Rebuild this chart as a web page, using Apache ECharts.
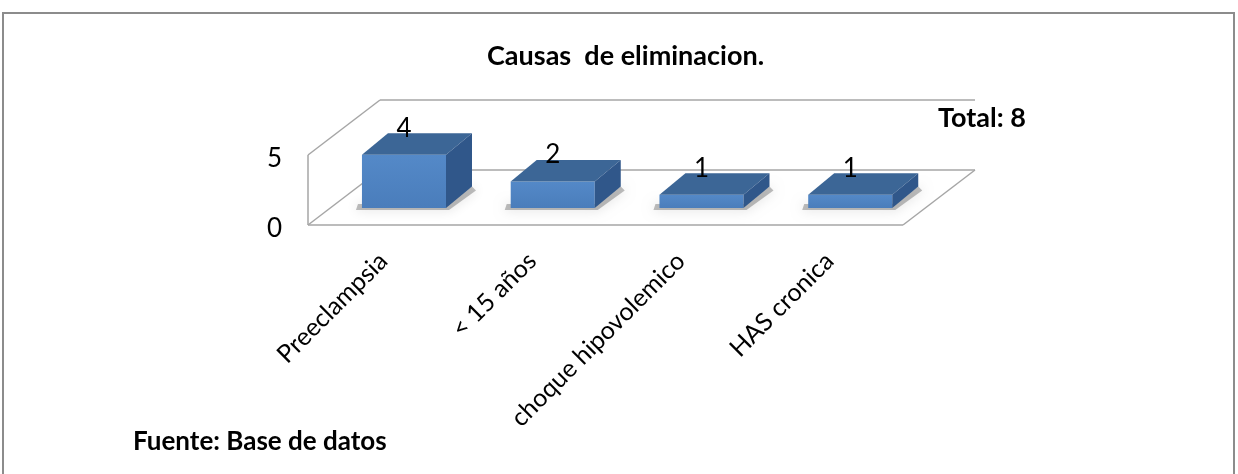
<!DOCTYPE html>
<html>
<head>
<meta charset="utf-8">
<script src="https://cdn.jsdelivr.net/npm/echarts@6/dist/echarts.min.js"></script>
<style>
  html, body { margin: 0; padding: 0; background: #fff; }
  #chart { width: 1238px; height: 474px; }
</style>
</head>
<body>
<div id="chart"></div>
<script>
// datos del grafico
const categories = ['Preeclampsia', '< 15 años', 'choque hipovolemico', 'HAS cronica']
const values = [4, 2, 1, 1]
const yMin = 0
const yMax = 5
const yStep = 5
const titleText = 'Causas  de eliminacion.'
const totalText = 'Total: 8'
const sourceText = 'Fuente: Base de datos'

const FONT = 'Lato, "Open Sans", sans-serif'
const WALL = '#a6a6a6'
const DEPTH_X = 72, DEPTH_Y = 55   // profundidad del piso / pared

const chart = echarts.init(document.getElementById('chart'))

// pared y piso en perspectiva, a partir del rectangulo del grid
function renderWall(params, api) {
  const cs = params.coordSys
  const L = cs.x, R = cs.x + cs.width, T = cs.y, B = cs.y + cs.height
  const line = (x1, y1, x2, y2) => ({
    type: 'line',
    shape: { x1, y1, x2, y2 },
    style: { stroke: WALL, lineWidth: 1.5 }
  })
  return {
    type: 'group',
    children: [
      line(L, T, L, B),
      line(L, B, R, B),
      line(R, B, R + DEPTH_X, B - DEPTH_Y),
      line(L + DEPTH_X, B - DEPTH_Y, R + DEPTH_X, B - DEPTH_Y),
      line(L, B, L + DEPTH_X, B - DEPTH_Y),
      line(L, T, L + DEPTH_X, T - DEPTH_Y),
      line(L + DEPTH_X, T - DEPTH_Y, R + DEPTH_X, T - DEPTH_Y)
    ]
  }
}

// barras 3D
function renderBar(params, api) {
  const idx = api.value(0)
  const val = api.value(1)
  const base = api.coord([idx, 0])
  const top = api.coord([idx, val])
  const band = api.size([1, 0])[0]
  const w = band * 0.565
  const cx = base[0] + 21.6
  const xl = cx - w / 2, xr = cx + w / 2
  const yb = base[1] - 17
  const yt = yb - (base[1] - top[1]) * 0.95
  const dx = 26, dy = 21.5
  return {
    type: 'group',
    children: [
      {
        // sombra suave bajo la barra
        type: 'polygon',
        shape: { points: [[xl - 4, yb - 4], [xr, yb - 4], [xr + dx, yb - dy], [xr + dx + 4, yb - dy + 4], [xr + 3, yb + 2], [xl - 6, yb + 2]] },
        style: { fill: 'rgba(0,0,0,0.25)', shadowBlur: 12, shadowColor: 'rgba(0,0,0,0.55)' }
      },
      {
        type: 'rect',
        shape: { x: xl, y: yt, width: w, height: yb - yt },
        style: {
          fill: new echarts.graphic.LinearGradient(0, 0, 0, 1, [
            { offset: 0, color: '#5489c8' },
            { offset: 1, color: '#4a7dbb' }
          ])
        }
      },
      {
        type: 'polygon',
        shape: { points: [[xl, yt], [xr, yt], [xr + dx, yt - dy], [xl + dx, yt - dy]] },
        style: { fill: '#3c6696' }
      },
      {
        type: 'polygon',
        shape: { points: [[xr, yt], [xr + dx, yt - dy], [xr + dx, yb - dy], [xr, yb]] },
        style: { fill: '#30578a' }
      },
      {
        type: 'text',
        style: {
          text: String(val),
          x: cx,
          y: yt - dy - 5,
          align: 'center',
          verticalAlign: 'middle',
          fontFamily: FONT,
          fontSize: 26,
          fill: '#000'
        }
      }
    ]
  }
}

chart.setOption({
  animation: false,
  backgroundColor: '#fff',
  title: [
    { text: titleText, left: 487, top: 43, padding: 0, textStyle: { fontFamily: FONT, fontSize: 27, fontWeight: 'bold', color: '#000' } },
    { text: totalText, left: 938, top: 105, padding: 0, textStyle: { fontFamily: FONT, fontSize: 27, fontWeight: 'bold', color: '#000' } },
    { text: sourceText, left: 133, top: 429, padding: 0, textStyle: { fontFamily: FONT, fontSize: 26, fontWeight: 'bold', color: '#000' } }
  ],
  graphic: [
    {
      type: 'rect',
      shape: { x: 3, y: 13, width: 1231, height: 480 },
      style: { fill: 'none', stroke: '#8c8c8c', lineWidth: 2 },
      silent: true
    }
  ],
  grid: [
    { left: 308, right: 335, top: 155, bottom: 249 },
    { left: 309, right: 334, top: 155, bottom: 249 }
  ],
  xAxis: [
    {
      type: 'category', gridIndex: 0, data: categories,
      axisLine: { show: false }, axisTick: { show: false }, axisLabel: { show: false }
    },
    {
      type: 'category', gridIndex: 1, data: categories,
      axisLine: { show: false }, axisTick: { show: false },
      axisLabel: { rotate: 45, margin: 32, interval: 0, fontFamily: FONT, fontSize: 25, color: '#000' }
    }
  ],
  yAxis: [
    {
      type: 'value', gridIndex: 0, min: yMin, max: yMax, interval: yStep,
      axisLine: { show: false }, axisTick: { show: false }, splitLine: { show: false },
      axisLabel: { margin: 26, verticalAlign: 'top', lineHeight: 7, fontFamily: FONT, fontSize: 26, color: '#000' }
    },
    {
      type: 'value', gridIndex: 1, min: yMin, max: yMax, show: false
    }
  ],
  series: [
    {
      type: 'custom',
      xAxisIndex: 0, yAxisIndex: 0,
      z: 1,
      silent: true,
      renderItem: renderWall,
      data: [[0, 0]]
    },
    {
      type: 'custom',
      xAxisIndex: 0, yAxisIndex: 0,
      z: 2,
      renderItem: renderBar,
      data: values.map((v, i) => [i, v])
    }
  ]
})
</script>
</body>
</html>
